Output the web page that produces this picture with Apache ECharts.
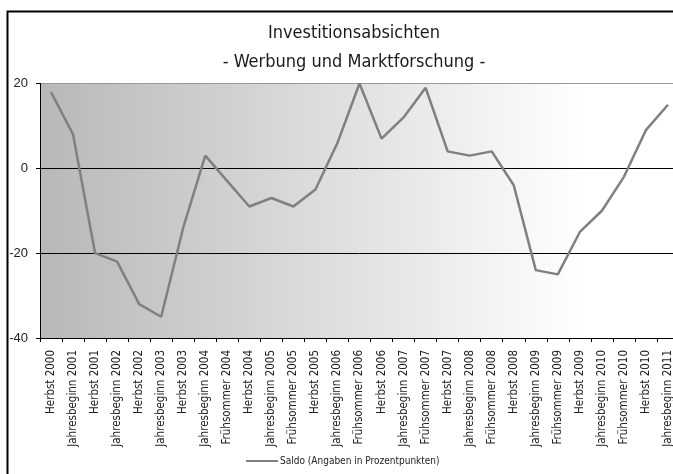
<!DOCTYPE html>
<html>
<head>
<meta charset="utf-8">
<script src="https://cdn.jsdelivr.net/npm/echarts@6/dist/echarts.min.js"></script>
<style>
  html, body { margin: 0; padding: 0; background: #fff; overflow: hidden; }
  /* chart is a bit wider than the window: the right end of the plot is cut off like in the original */
  #main { width: 679px; height: 474px; }
</style>
</head>
<body>
<div id="main"></div>
<script>
const categories = [
  'Herbst 2000', 'Jahresbeginn 2001', 'Herbst 2001', 'Jahresbeginn 2002', 'Herbst 2002',
  'Jahresbeginn 2003', 'Herbst 2003', 'Jahresbeginn 2004', 'Frühsommer 2004', 'Herbst 2004',
  'Jahresbeginn 2005', 'Frühsommer 2005', 'Herbst 2005', 'Jahresbeginn 2006', 'Frühsommer 2006',
  'Herbst 2006', 'Jahresbeginn 2007', 'Frühsommer 2007', 'Herbst 2007', 'Jahresbeginn 2008',
  'Frühsommer 2008', 'Herbst 2008', 'Jahresbeginn 2009', 'Frühsommer 2009', 'Herbst 2009',
  'Jahresbeginn 2010', 'Frühsommer 2010', 'Herbst 2010', 'Jahresbeginn 2011'
];
const saldo = [18, 8, -20, -22, -32, -35, -14, 3, -3, -9, -7, -9, -5, 6, 20, 7, 12, 19, 4, 3, 4, -4, -24, -25, -15, -10, -2, 9, 15];
const seriesName = 'Saldo (Angaben in Prozentpunkten)';
const titleLines = ['Investitionsabsichten', '- Werbung und Marktforschung -'];

const narrow = '"Liberation Sans Narrow", "DejaVu Sans Condensed", "Open Sans", sans-serif';

const chart = echarts.init(document.getElementById('main'));
const option = {
  animation: false,
  title: {
    text: titleLines.join('\n'),
    left: 349,
    textAlign: 'center',
    top: 14,
    textStyle: {
      fontFamily: narrow,
      fontSize: 18,
      fontWeight: 'normal',
      color: '#1a1a1a',
      lineHeight: 29
    }
  },
  legend: {
    bottom: 3,
    left: 241,
    itemWidth: 32,
    itemHeight: 2,
    icon: 'rect',
    itemGap: 2,
    textStyle: { fontFamily: narrow, fontSize: 10, color: '#222', padding: [0, 0, 0, -3] },
    data: [seriesName]
  },
  grid: {
    left: 40,
    right: 0,
    top: 83.5,
    height: 254.5,
    show: true,
    borderWidth: 0,
    backgroundColor: new echarts.graphic.LinearGradient(0, 0, 1, 0, [
      { offset: 0, color: '#b8b8b8' },
      { offset: 0.85, color: '#ffffff' },
      { offset: 1, color: '#ffffff' }
    ])
  },
  xAxis: {
    type: 'category',
    data: categories,
    boundaryGap: true,
    axisLine: { show: true, onZero: false, lineStyle: { color: '#000', width: 1 } },
    axisTick: { show: true, length: 4, lineStyle: { color: '#000' } },
    axisLabel: {
      rotate: 90,
      interval: 0,
      margin: 12,
      fontFamily: narrow,
      fontSize: 11.5,
      color: '#222'
    }
  },
  yAxis: {
    type: 'value',
    min: -40,
    max: 20,
    interval: 20,
    axisLine: { show: true, lineStyle: { color: '#000', width: 1 } },
    axisTick: { show: true, length: 4, lineStyle: { color: '#000' } },
    axisLabel: { fontFamily: 'Arial, "Liberation Sans", sans-serif', fontSize: 13, color: '#222', margin: 12 },
    splitLine: {
      show: true,
      lineStyle: { color: ['#000', '#000', '#000', '#999'], width: 1 }
    }
  },
  graphic: [
    {
      type: 'rect',
      left: 5,
      top: 9,
      shape: { width: 700, height: 500 },
      style: { fill: 'none', stroke: '#000', lineWidth: 2 },
      silent: true
    }
  ],
  series: [
    {
      name: seriesName,
      type: 'line',
      data: saldo,
      symbol: 'none',
      lineStyle: { color: '#808080', width: 2.5 },
      itemStyle: { color: '#808080' }
    }
  ]
};
chart.setOption(option);
</script>
</body>
</html>
